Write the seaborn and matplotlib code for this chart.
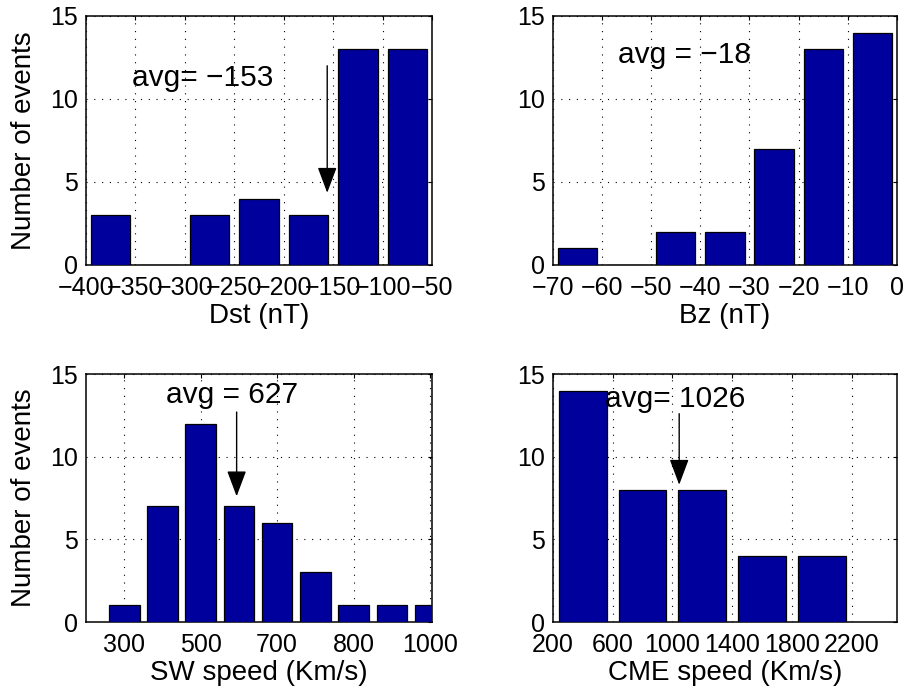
import numpy as np
import pandas as pd
import matplotlib
matplotlib.use("Agg")
import matplotlib.pyplot as plt
import seaborn as sns

# ---------------- data ----------------
dst_centers = [-375, -325, -275, -225, -175, -125, -75]
dst_counts = [3, 0, 3, 4, 3, 13, 13]
dst_ticks = [-400, -350, -300, -250, -200, -150, -100, -50]

bz_centers = [-65, -55, -45, -35, -25, -15, -5]
bz_counts = [1, 0, 2, 2, 7, 13, 14]
bz_ticks = [-70, -60, -50, -40, -30, -20, -10, 0]

sw_centers = [300, 350, 400, 450, 500, 550, 600, 650, 700]
sw_counts = [1, 7, 12, 7, 6, 3, 1, 1, 1]
sw_tick_pos = [300, 400, 500, 600, 700]
sw_tick_labels = ["300", "500", "700", "800", "1000"]

cme_centers = [400, 800, 1200, 1600, 2000]
cme_counts = [14, 8, 8, 4, 4]
cme_ticks = [200, 600, 1000, 1400, 1800, 2200]

avg_labels = ["avg= \u2212153", "avg = \u221218", "avg = 627", "avg= 1026"]

# ---------------- style ----------------
sns.set_style("white")
plt.rcParams["font.family"] = ["Liberation Sans", "DejaVu Sans"]
plt.rcParams["axes.unicode_minus"] = True
for k in ["text.color", "axes.labelcolor", "xtick.color", "ytick.color", "axes.edgecolor"]:
    plt.rcParams[k] = "black"
TICK_FS = 18
LAB_FS = 20
AVG_FS = 21.5
BAR = "#00009c"

fig = plt.figure(figsize=(9.04, 6.90), dpi=100)
W, H = 904.0, 690.0

def make_ax(l, r, t, b):
    return fig.add_axes([l / W, 1 - b / H, (r - l) / W, (b - t) / H])

ax_dst = make_ax(86, 432, 16, 265)
ax_bz = make_ax(552.7, 897, 16, 265)
ax_sw = make_ax(86, 432, 374, 622)
ax_cme = make_ax(552.7, 897, 374, 622)


def draw(ax, centers, counts, width, xlim, ticks, ticklabels=None):
    df = pd.DataFrame({"x": centers, "n": counts})
    lo = float(centers[0]) - width / 2
    hi = float(centers[-1]) + width / 2
    sns.histplot(data=df, x="x", weights="n", binwidth=width, binrange=(lo, hi),
                 shrink=0.8, color=BAR, edgecolor="black", linewidth=0.9,
                 alpha=1, ax=ax, zorder=3)
    ax.set_xlim(*xlim)
    ax.set_ylim(0, 15)
    ax.set_yticks([0, 5, 10, 15])
    ax.set_xticks(ticks)
    if ticklabels is not None:
        ax.set_xticklabels(ticklabels)
    else:
        ax.set_xticklabels([f"{t:g}".replace("-", "\u2212") for t in ticks])
    ax.grid(True, linestyle=(0, (1, 6)), color="black", linewidth=0.8, zorder=0)
    ax.set_axisbelow(True)
    ax.tick_params(direction="in", top=True, right=True, length=3,
                   width=0.8, labelsize=TICK_FS, colors="black")
    ax.tick_params(axis="x", pad=8)
    ax.tick_params(axis="y", pad=5.5)
    for s in ax.spines.values():
        s.set_color("black")
        s.set_linewidth(1.1)
        s.set_visible(True)
    ax.set_ylabel("")


def arrow(ax, x, ytail, ytip):
    ax.annotate("", xy=(x, ytip), xytext=(x, ytail),
                arrowprops=dict(arrowstyle="-|>,head_length=0.8,head_width=0.3",
                                color="black", lw=1.0, mutation_scale=20,
                                shrinkA=0, shrinkB=0), zorder=5)


draw(ax_dst, dst_centers, dst_counts, 50, (-400, -50), dst_ticks)
draw(ax_bz, bz_centers, bz_counts, 10, (-70, 0), bz_ticks)
draw(ax_sw, sw_centers, sw_counts, 50, (250, 702.5), sw_tick_pos, sw_tick_labels)
draw(ax_cme, cme_centers, cme_counts, 400, (200, 2500), cme_ticks)

ax_dst.set_xlabel("Dst (nT)", fontsize=LAB_FS, labelpad=2)
ax_bz.set_xlabel("Bz (nT)", fontsize=LAB_FS, labelpad=2)
ax_sw.set_xlabel("SW speed (Km/s)", fontsize=LAB_FS, labelpad=2)
ax_cme.set_xlabel("CME speed (Km/s)", fontsize=LAB_FS, labelpad=2)
ax_dst.set_ylabel("Number of events", fontsize=LAB_FS, labelpad=10)
ax_sw.set_ylabel("Number of events", fontsize=LAB_FS, labelpad=10)

ax_dst.text(-353, 11.25, avg_labels[0], fontsize=AVG_FS, va="center", ha="left", zorder=6)
arrow(ax_dst, -156, 12.0, 4.35)

ax_bz.text(-56.8, 12.65, avg_labels[1], fontsize=AVG_FS, va="center", ha="left", zorder=6)

ax_sw.text(354, 13.7, avg_labels[2], fontsize=AVG_FS, va="center", ha="left", zorder=6)
arrow(ax_sw, 447, 12.7, 7.6)

ax_cme.text(549, 13.5, avg_labels[3], fontsize=AVG_FS, va="center", ha="left", zorder=6)
arrow(ax_cme, 1045, 12.6, 8.3)

fig.savefig("out.png", dpi=100, facecolor="white")
